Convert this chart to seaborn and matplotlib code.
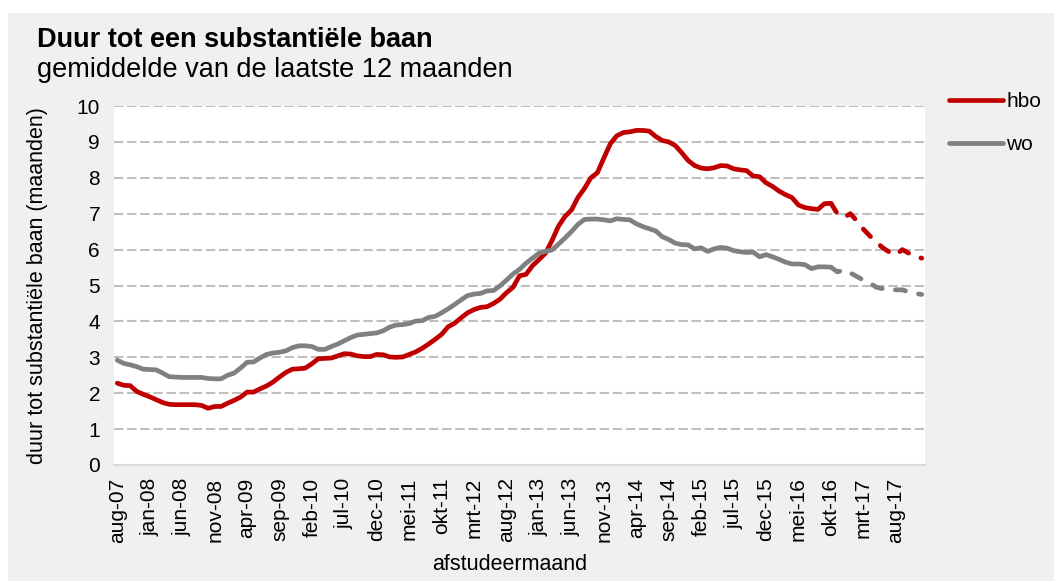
import pandas as pd
import seaborn as sns
from matplotlib import pyplot as plt
from matplotlib.lines import Line2D
from matplotlib.patches import Rectangle

hbo = [2.28, 2.22, 2.21, 2.05, 1.97, 1.90, 1.82, 1.74, 1.69, 1.68,
       1.68, 1.68, 1.68, 1.66, 1.58, 1.63, 1.63, 1.72, 1.80, 1.89,
       2.03, 2.03, 2.12, 2.20, 2.31, 2.45, 2.58, 2.67, 2.68, 2.70,
       2.82, 2.96, 2.97, 2.98, 3.04, 3.10, 3.09, 3.04, 3.02, 3.02,
       3.08, 3.07, 3.01, 3.00, 3.01, 3.08, 3.15, 3.25, 3.37, 3.50,
       3.64, 3.85, 3.95, 4.10, 4.24, 4.33, 4.39, 4.41, 4.50, 4.62,
       4.80, 4.95, 5.27, 5.31, 5.55, 5.72, 5.90, 6.25, 6.65, 6.92,
       7.10, 7.45, 7.70, 8.00, 8.14, 8.55, 8.95, 9.17, 9.26, 9.28,
       9.32, 9.32, 9.30, 9.15, 9.04, 9.00, 8.90, 8.70, 8.48, 8.34,
       8.27, 8.25, 8.28, 8.34, 8.33, 8.25, 8.22, 8.20, 8.05, 8.03,
       7.86, 7.76, 7.63, 7.53, 7.45, 7.24, 7.17, 7.14, 7.12, 7.28,
       7.29, 7.00, 6.90, 7.00, 6.80, 6.57, 6.38, 6.21, 6.05, 5.93,
       5.85, 6.00, 5.90, 5.81, 5.76]

wo = [2.92, 2.83, 2.79, 2.74, 2.67, 2.66, 2.65, 2.56, 2.46, 2.45,
      2.44, 2.44, 2.44, 2.44, 2.41, 2.40, 2.40, 2.50, 2.56, 2.70,
      2.86, 2.87, 2.98, 3.08, 3.12, 3.14, 3.18, 3.27, 3.32, 3.32,
      3.30, 3.22, 3.22, 3.30, 3.37, 3.46, 3.55, 3.62, 3.64, 3.66,
      3.68, 3.74, 3.84, 3.90, 3.91, 3.94, 4.01, 4.02, 4.11, 4.14,
      4.24, 4.35, 4.47, 4.60, 4.72, 4.76, 4.78, 4.85, 4.86, 4.99,
      5.15, 5.32, 5.45, 5.62, 5.76, 5.90, 5.95, 5.99, 6.15, 6.32,
      6.50, 6.70, 6.84, 6.85, 6.85, 6.83, 6.80, 6.86, 6.84, 6.83,
      6.72, 6.64, 6.58, 6.52, 6.36, 6.28, 6.18, 6.14, 6.13, 6.02,
      6.05, 5.95, 6.02, 6.06, 6.04, 5.97, 5.94, 5.92, 5.93, 5.80,
      5.86, 5.80, 5.73, 5.65, 5.60, 5.60, 5.58, 5.47, 5.52, 5.52,
      5.51, 5.38, 5.43, 5.35, 5.25, 5.15, 5.07, 4.95, 4.91, 4.87,
      4.88, 4.88, 4.82, 4.78, 4.75]

tick_labels = ["aug-07", "jan-08", "jun-08", "nov-08", "apr-09", "sep-09",
               "feb-10", "jul-10", "dec-10", "mei-11", "okt-11", "mrt-12",
               "aug-12", "jan-13", "jun-13", "nov-13", "apr-14", "sep-14",
               "feb-15", "jul-15", "dec-15", "mei-16", "okt-16", "mrt-17",
               "aug-17"]

START_PROGNOSE = 110  # okt-16: vanaf hier gestippeld
RED = "#c00000"
GREY = "#808080"
LW = 3.4

rows = []
for name, values in [("hbo", hbo), ("wo", wo)]:
    for i, v in enumerate(values):
        if i <= START_PROGNOSE:
            rows.append((i, v, name, "gemeten"))
        if i >= START_PROGNOSE:
            rows.append((i, v, name, "prognose"))
df = pd.DataFrame(rows, columns=["maand", "waarde", "reeks", "deel"])

sns.set_style("white")
plt.rcParams["font.family"] = ["Liberation Sans", "DejaVu Sans"]
plt.rcParams["text.color"] = "black"
plt.rcParams["axes.labelcolor"] = "black"

W, H = 1054, 581
fig = plt.figure(figsize=(W / 100, H / 100), dpi=100, facecolor="white")
fig.add_artist(Rectangle((8 / W, 0), 1 - 8 / W, 1 - 13 / H, transform=fig.transFigure,
                         facecolor="#f0f0f0", edgecolor="none", zorder=-10))

ax = fig.add_axes([114 / W, 1 - 465 / H, 811 / W, 359 / H])
ax.set_facecolor("white")

sns.lineplot(data=df, x="maand", y="waarde", hue="reeks", style="deel",
             hue_order=["hbo", "wo"], style_order=["gemeten", "prognose"],
             palette={"hbo": RED, "wo": GREY},
             dashes={"gemeten": "", "prognose": (2.2, 2.8)},
             linewidth=LW, legend=False, ax=ax, estimator=None, sort=False)
for line in ax.lines:
    line.set_solid_capstyle("round")
    line.set_dash_capstyle("round")
    line.set_solid_joinstyle("round")
    line.set_dash_joinstyle("round")

ax.set_xlim(-0.5, 124.5)
ax.set_ylim(0, 10)
ax.set_yticks(range(0, 11))
ax.set_xticks(range(0, 125, 5))
ax.set_xticklabels(tick_labels, rotation=90)
ax.tick_params(axis="both", length=0, labelsize=15, colors="black")
ax.tick_params(axis="x", pad=9)
ax.tick_params(axis="y", pad=10)

ax.yaxis.grid(True, color="#bfbfbf", linestyle=(0, (4.5, 1.8)), linewidth=1.5)
ax.xaxis.grid(False)
ax.set_axisbelow(True)

sns.despine(ax=ax, left=True)
ax.spines["bottom"].set_color("#d9d9d9")
ax.spines["bottom"].set_linewidth(1.5)

ax.set_xlabel("afstudeermaand", fontsize=15.5)
ax.xaxis.set_label_coords((510 - 114) / 811, (465 - 554) / 359)
ax.set_ylabel("duur tot substantiële baan (maanden)", fontsize=15.5)
ax.yaxis.set_label_coords((38 - 114) / 811, 0.5)
ax.yaxis.label.set_va("center")

fig.text(37 / W, 1 - 47 / H, "Duur tot een substantiële baan", fontsize=19.5,
         fontweight="bold", va="baseline")
fig.text(37 / W, 1 - 77 / H, "gemiddelde van de laatste 12 maanden",
         fontsize=19.5, va="baseline")

handles = [Line2D([], [], color=RED, lw=LW, solid_capstyle="round"),
           Line2D([], [], color=GREY, lw=LW, solid_capstyle="round")]
fig.legend(handles, ["hbo", "wo"], loc="upper left",
           bbox_to_anchor=(949 / W, 1 - 92 / H), frameon=False, fontsize=15,
           handlelength=2.6, handletextpad=0.15, labelspacing=1.15,
           borderpad=0, borderaxespad=0)

fig.savefig("out.png", dpi=100, facecolor=fig.get_facecolor())
